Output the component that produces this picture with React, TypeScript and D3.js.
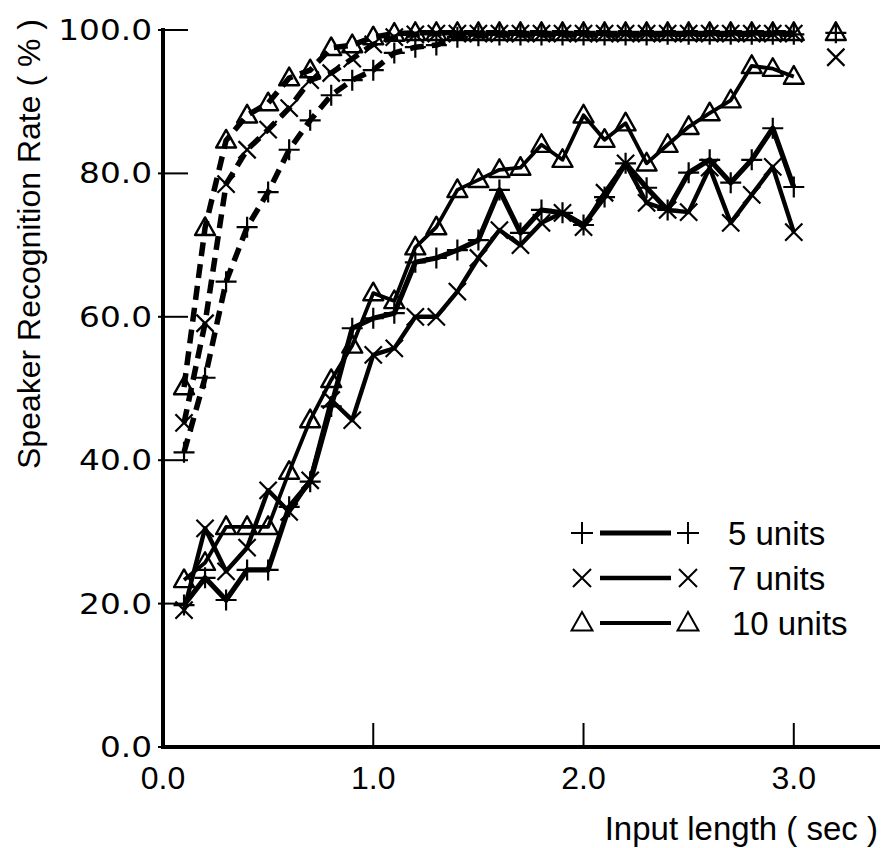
import React from 'react';
import * as d3 from 'd3';

const inputLength = [0.1, 0.2, 0.3, 0.4, 0.5, 0.6, 0.7, 0.8, 0.9, 1.0,
  1.1, 1.2, 1.3, 1.4, 1.5, 1.6, 1.7, 1.8, 1.9, 2.0,
  2.1, 2.2, 2.3, 2.4, 2.5, 2.6, 2.7, 2.8, 2.9, 3.0];

// dashed curves (upper)
const units5Dashed = [41.1, 51.5, 64.9, 72.5, 77.4, 83.3, 87.4, 90.9, 93.0, 94.4,
  96.8, 97.6, 97.9, 99.0, 99.2, 99.3, 99.3, 99.3, 99.3, 99.3,
  99.3, 99.3, 99.3, 99.4, 99.4, 99.4, 99.4, 99.4, 99.4, 99.4];
const units7Dashed = [45.2, 59.1, 78.5, 83.3, 86.1, 89.1, 93.0, 94.0, 96.0, 98.0,
  99.0, 99.4, 99.5, 99.5, 99.5, 99.5, 99.5, 99.5, 99.5, 99.5,
  99.5, 99.5, 99.5, 99.5, 99.5, 99.5, 99.5, 99.5, 99.5, 99.5];
const units10Dashed = [50.2, 72.4, 84.6, 88.1, 89.8, 93.3, 94.4, 97.5, 97.9, 99.0,
  99.5, 99.6, 99.6, 99.6, 99.6, 99.6, 99.6, 99.6, 99.6, 99.6,
  99.6, 99.6, 99.6, 99.6, 99.6, 99.6, 99.6, 99.6, 99.6, 99.6];

// solid curves (lower)
const units5Solid = [19.8, 23.6, 20.5, 24.7, 24.7, 33.5, 37.0, 47.5, 58.4, 59.8,
  60.5, 67.6, 68.2, 69.3, 70.7, 77.7, 71.7, 74.9, 74.5, 72.8,
  76.7, 81.4, 78.0, 74.9, 80.1, 81.9, 78.7, 81.9, 86.3, 78.1];
const units7Solid = [19.1, 30.5, 24.5, 27.8, 35.8, 32.8, 37.2, 48.4, 45.6, 54.7,
  55.6, 60.0, 60.0, 63.5, 68.2, 72.1, 70.0, 73.1, 74.5, 72.5,
  77.3, 81.4, 75.9, 74.9, 74.6, 80.8, 73.1, 77.0, 80.9, 71.8];
const units10Solid = [23.3, 25.7, 30.7, 30.7, 30.7, 38.4, 45.6, 51.2, 56.0, 63.3,
  62.2, 69.7, 72.5, 77.7, 79.1, 80.5, 80.8, 84.0, 81.9, 88.1,
  84.7, 87.0, 81.4, 84.0, 86.5, 88.4, 90.2, 95.0, 94.6, 93.5];

// lone points at the right edge
const extraLength = 3.2;
const units5Extra = 99.6;
const units7Extra = 96.2;
const units10Extra = 99.6;

const yTicks = [0, 20, 40, 60, 80, 100];
const xTicks = [0, 1, 2, 3];
const seriesNames = ['5 units', '7 units', '10 units'];
const markerKinds = ['plus', 'cross', 'tri'];

const W = 883;
const H = 848;

function markerPath(kind: string, r: number) {
  if (kind === 'plus') return `M${-r},0H${r}M0,${-r}V${r}`;
  if (kind === 'cross') { const a = r * 0.82; return `M${-a},${-a}L${a},${a}M${-a},${a}L${a},${-a}`; }
  return `M0,${-r}L${r * 0.95},${r * 0.68}L${-r * 0.95},${r * 0.68}Z`;
}

export default function App() {
  const x = d3.scaleLinear().domain([0, 3.41]).range([163, 880]);
  const y = d3.scaleLinear().domain([0, 100]).range([747, 30]);

  const line = d3.line<number>()
    .x((d, i) => x(inputLength[i]))
    .y(d => y(d));

  const series = [
    { name: seriesNames[0], kind: markerKinds[0], dashed: units5Dashed, solid: units5Solid, extra: units5Extra, w: 5.2 },
    { name: seriesNames[1], kind: markerKinds[1], dashed: units7Dashed, solid: units7Solid, extra: units7Extra, w: 4.4 },
    { name: seriesNames[2], kind: markerKinds[2], dashed: units10Dashed, solid: units10Solid, extra: units10Extra, w: 3.8 },
  ];

  return (
    <svg width={W} height={H} style={{ position: 'absolute', left: 0, top: 0, background: '#fff' }}>
      <g stroke="#000" fill="none" strokeLinejoin="round">
        {series.map(s => (
          <path key={'d' + s.name} d={line(s.dashed) || ''} strokeWidth={5.5} strokeDasharray="14,8" />
        ))}
        {series.map(s => (
          <path key={'s' + s.name} d={line(s.solid) || ''} strokeWidth={s.w} />
        ))}
        {series.map(s => (
          <g key={'m' + s.name} strokeWidth={s.kind === 'tri' ? 2.4 : 2.2}>
            {s.dashed.map((v, i) => (
              <path key={'dm' + i} transform={`translate(${x(inputLength[i])},${y(v)})`} d={markerPath(s.kind, 10.5)} />
            ))}
            {s.solid.map((v, i) => (
              <path key={'sm' + i} transform={`translate(${x(inputLength[i])},${y(v)})`} d={markerPath(s.kind, 10.5)} />
            ))}
            <path transform={`translate(${x(extraLength)},${y(s.extra)})`} d={markerPath(s.kind, 10.5)} />
          </g>
        ))}
      </g>

      {/* axes */}
      <g stroke="#000">
        <line x1={x(0)} x2={x(0)} y1={y(100) - 2} y2={y(0) + 2} strokeWidth={4} />
        <line x1={x(0) - 2} x2={880} y1={y(0)} y2={y(0)} strokeWidth={4} />
        {yTicks.map(t => (
          <line key={'yt' + t} x1={x(0) - 5} x2={x(0) + 25} y1={y(t)} y2={y(t)} strokeWidth={2} />
        ))}
        {xTicks.filter(t => t > 0).map(t => (
          <line key={'xt' + t} x1={x(t)} x2={x(t)} y1={y(0)} y2={y(0) - 24} strokeWidth={2} />
        ))}
      </g>
      <g fontFamily="'DejaVu Sans', sans-serif" fontSize={29} fill="#000">
        {yTicks.map(t => (
          <text key={'yl' + t} transform={`translate(152,${y(t) + 10}) scale(1.13,1)`} textAnchor="end">
            {t.toFixed(1)}
          </text>
        ))}
      </g>
      <g fontFamily="'Liberation Sans', Arial, sans-serif" fill="#000">
        {xTicks.map(t => (
          <text key={'xl' + t} x={x(t)} y={789} textAnchor="middle" fontSize={32}>{t.toFixed(1)}</text>
        ))}
        <text x={878} y={840} textAnchor="end" fontSize={33}>Input length ( sec )</text>
        <text transform="translate(40,244) rotate(-90)" textAnchor="middle" fontSize={32}>
          Speaker Recognition Rate ( % )
        </text>
      </g>

      {/* legend */}
      <g>
        {series.map((s, i) => {
          const ly = 533 + i * 45;
          return (
            <g key={'lg' + s.name}>
              <g stroke="#000" fill="none" strokeWidth={2}>
                <path transform={`translate(582,${ly})`} d={markerPath(s.kind, 11)} />
                <path transform={`translate(688,${ly})`} d={markerPath(s.kind, 11)} />
                <line x1={600} x2={671} y1={ly} y2={ly} strokeWidth={s.w} />
              </g>
              <text x={i === 2 ? 732 : 728} y={ly + 12} fontFamily="'Liberation Sans', Arial, sans-serif" fontSize={33}>
                {s.name}
              </text>
            </g>
          );
        })}
      </g>
    </svg>
  );
}
